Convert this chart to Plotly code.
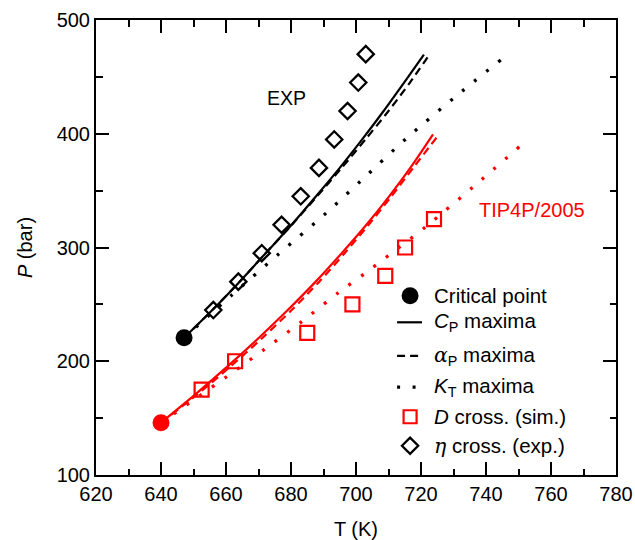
import plotly.graph_objects as go

# ---------------- data ----------------
# Experimental (real water)
exp_crit_T = [647.1]
exp_crit_P = [220.6]
exp_cp_T = [647.1, 655.8, 664.2, 672.2, 680.2, 687.7, 695.0, 701.9, 708.5, 714.8, 720.9]
exp_cp_P = [220.6, 245.0, 270.0, 295.0, 320.0, 345.0, 370.0, 395.0, 420.0, 445.0, 469.5]
exp_ap_T = [647.1, 655.8, 664.2, 672.2, 680.3, 688.0, 695.6, 702.9, 710.0, 716.6, 722.6]
exp_ap_P = [220.6, 245.0, 270.0, 295.0, 320.0, 345.0, 370.0, 395.0, 420.0, 445.0, 469.5]
exp_kt_T = [647.1, 661.8, 676.1, 690.7, 701.2, 715.3, 730.0, 744.8]
exp_kt_P = [220.6, 258.2, 294.0, 330.0, 357.8, 395.4, 431.2, 465.5]
eta_T = [656.1, 663.8, 671.0, 677.1, 683.0, 688.6, 693.3, 697.4, 700.7, 703.0]
eta_P = [245, 270, 295, 320, 345, 370, 395, 420, 445, 470]

# TIP4P/2005 simulations
sim_crit_T = [640.0]
sim_crit_P = [146.0]
sim_cp_T = [640.0, 650.2, 660.3, 669.9, 679.0, 687.6, 695.6, 703.2, 710.2, 716.7, 723.7]
sim_cp_P = [146.0, 170.0, 195.0, 220.0, 245.0, 270.0, 295.0, 320.0, 345.0, 370.0, 399.5]
sim_ap_T = [640.0, 650.8, 661.2, 671.0, 680.2, 688.7, 696.5, 703.9, 710.9, 717.6, 725.0]
sim_ap_P = [146.0, 170.0, 195.0, 220.0, 245.0, 270.0, 295.0, 320.0, 345.0, 370.0, 397.4]
sim_kt_T = [640.0, 660.2, 671.8, 683.3, 694.6, 702.5, 710.2, 721.5, 736.1, 750.5]
sim_kt_P = [146.0, 186.4, 210.5, 234.8, 260.3, 276.7, 293.4, 318.3, 353.4, 389.2]
D_T = [652.5, 662.8, 685.0, 698.9, 709.0, 715.1, 724.0]
D_P = [175, 200, 225, 250, 275, 300, 325]

x_ticks = [620, 640, 660, 680, 700, 720, 740, 760, 780]
y_ticks = [100, 200, 300, 400, 500]

legend_labels = [
    "Critical point",
    "<i>C</i><sub>P</sub> maxima",
    "<span style='font-family:DejaVu Serif'><i>α</i></span><sub>P</sub> maxima",
    "<i>K</i><sub>T</sub> maxima",
    "<i>D</i> cross. (sim.)",
    "<span style='font-family:DejaVu Serif'><i>η</i></span> cross. (exp.)",
]

# ---------------- styles ----------------
FONT = "Liberation Sans, Arial, Helvetica, sans-serif"
RED = "#ff0000"
BLACK = "#000000"
DASH = "8px,5px"
DOT = "3px,12.5px"
LW = 2.2
DOTW = 3.3

fig = go.Figure()

def line(x, y, color, dash, width):
    fig.add_trace(go.Scatter(x=x, y=y, mode="lines", showlegend=False,
                             line=dict(color=color, dash=dash, width=width,
                                       shape="spline", smoothing=0.8),
                             hoverinfo="skip"))

# EXP curves
line(exp_kt_T, exp_kt_P, BLACK, DOT, DOTW)
line(exp_ap_T, exp_ap_P, BLACK, DASH, LW)
line(exp_cp_T, exp_cp_P, BLACK, "solid", LW)
# TIP4P/2005 curves
line(sim_kt_T, sim_kt_P, RED, DOT, DOTW)
line(sim_ap_T, sim_ap_P, RED, DASH, LW)
line(sim_cp_T, sim_cp_P, RED, "solid", LW)

# markers
fig.add_trace(go.Scatter(x=eta_T, y=eta_P, mode="markers", showlegend=False,
                         marker=dict(symbol="diamond-open", size=12.5, color=BLACK,
                                     line=dict(width=2.3, color=BLACK))))
fig.add_trace(go.Scatter(x=D_T, y=D_P, mode="markers", showlegend=False,
                         marker=dict(symbol="square-open", size=14, color=RED,
                                     line=dict(width=2.2, color=RED))))
fig.add_trace(go.Scatter(x=exp_crit_T, y=exp_crit_P, mode="markers", showlegend=False,
                         marker=dict(symbol="circle", size=17, color=BLACK)))
fig.add_trace(go.Scatter(x=sim_crit_T, y=sim_crit_P, mode="markers", showlegend=False,
                         marker=dict(symbol="circle", size=17, color=RED)))

# ---------------- manual legend (overlay axis in fractions) ----------------
leg_y = [0.394, 0.3356, 0.262, 0.193, 0.128, 0.0644]
sym_x = 0.604
seg = [0.579, 0.627]
txt_x = 0.6456

def leg_marker(y, symbol, size, color, lw=0):
    fig.add_trace(go.Scatter(x=[sym_x], y=[y], xaxis="x2", yaxis="y2", mode="markers",
                             showlegend=False, hoverinfo="skip",
                             marker=dict(symbol=symbol, size=size, color=color,
                                         line=dict(width=lw, color=color))))

def leg_line(y, dash, width):
    fig.add_trace(go.Scatter(x=seg, y=[y, y], xaxis="x2", yaxis="y2", mode="lines",
                             showlegend=False, hoverinfo="skip",
                             line=dict(color=BLACK, dash=dash, width=width)))

leg_marker(leg_y[0], "circle", 17, BLACK)
leg_line(leg_y[1], "solid", LW)
leg_line(leg_y[2], DASH, LW)
leg_line(leg_y[3], DOT, DOTW)
leg_marker(leg_y[4], "square-open", 13, RED, 2.2)
leg_marker(leg_y[5], "diamond-open", 12.5, BLACK, 2.3)

for lab, y in zip(legend_labels, leg_y):
    fig.add_annotation(x=txt_x, y=y, xref="x2", yref="y2", text=lab, showarrow=False,
                       xanchor="left", yanchor="middle",
                       font=dict(family=FONT, size=20.5, color=BLACK))

# curve labels
fig.add_annotation(x=678.5, y=431.5, text="EXP", showarrow=False,
                   font=dict(family=FONT, size=19.5, color=BLACK))
fig.add_annotation(x=754, y=333, text="TIP4P/2005", showarrow=False,
                   font=dict(family=FONT, size=20, color=RED))

axis_common = dict(showgrid=False, zeroline=False, showline=True, linecolor=BLACK,
                   linewidth=2, mirror="allticks", ticks="inside", ticklen=13,
                   tickwidth=2, tickcolor=BLACK, automargin=False,
                   tickfont=dict(family=FONT, size=20, color=BLACK))

fig.update_layout(
    width=635, height=540,
    margin=dict(l=96, r=19, t=20, b=65, autoexpand=False),
    paper_bgcolor="white", plot_bgcolor="white",
    showlegend=False,
    font=dict(family=FONT, size=20, color=BLACK),
    xaxis=dict(range=[620, 780], tickvals=x_ticks, ticktext=[str(v) for v in x_ticks],
               minor=dict(ticks="inside", dtick=10, ticklen=6.5, tickwidth=1.5,
                          tickcolor=BLACK, showgrid=False),
               title=dict(text="T (K)", font=dict(family=FONT, size=20), standoff=21),
               **axis_common),
    yaxis=dict(range=[100, 500], tickvals=y_ticks, ticktext=[str(v) for v in y_ticks],
               minor=dict(ticks="inside", dtick=50, ticklen=6.5, tickwidth=1.5,
                          tickcolor=BLACK, showgrid=False),
               title=dict(text="<i>P</i> (bar)", font=dict(family=FONT, size=20), standoff=19),
               **axis_common),
    xaxis2=dict(range=[0, 1], overlaying="x", visible=False, anchor="y2"),
    yaxis2=dict(range=[0, 1], overlaying="y", visible=False, anchor="x2"),
)

fig.write_html("out.html")
